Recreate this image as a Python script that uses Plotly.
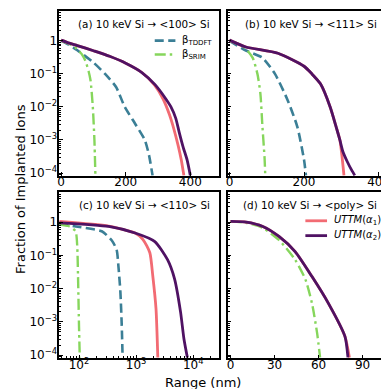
import numpy as np
import plotly.graph_objects as go

# ---- data ----
# (a) <100>
a_x_uttm2 = [0, 25, 50, 100, 150, 200, 250, 290, 320, 340, 355, 365, 378, 390, 400]
a_y_uttm2 = [1.05, 0.85, 0.72, 0.5, 0.34, 0.21, 0.11, 0.048, 0.02, 0.01, 4.5e-3, 1.8e-3, 6e-4, 2.5e-4, 8.5e-5]
a_x_uttm1 = [0, 25, 50, 100, 150, 200, 250, 290, 315, 335, 350, 362, 372, 380]
a_y_uttm1 = [1.05, 0.85, 0.72, 0.5, 0.34, 0.21, 0.11, 0.045, 0.018, 6e-3, 2e-3, 7e-4, 2.5e-4, 8.5e-5]
a_x_tddft = [0, 20, 50, 100, 136, 170, 197, 230, 259, 272, 283]
a_y_tddft = [1.0, 0.8, 0.52, 0.22, 0.1, 0.04, 0.01, 3e-3, 1e-3, 3.5e-4, 8.5e-5]
a_x_srim = [0, 20, 45, 65, 75, 85, 91, 98, 103, 106]
a_y_srim = [1.0, 0.85, 0.62, 0.38, 0.25, 0.12, 0.063, 0.01, 1e-3, 8.5e-5]

# (b) <111>
b_x_uttm2 = [0, 44, 130, 200, 221, 244, 270, 286, 296, 304, 316, 328, 336]
b_y_uttm2 = [1.05, 0.65, 0.42, 0.17, 0.1, 0.05, 0.01, 2.5e-3, 1e-3, 4.5e-4, 2.2e-4, 1.2e-4, 8.5e-5]
b_x_uttm1 = [0, 44, 130, 200, 221, 244, 270, 286, 296, 302, 307]
b_y_uttm1 = [1.05, 0.65, 0.42, 0.17, 0.1, 0.05, 0.01, 2.5e-3, 1e-3, 3e-4, 8.5e-5]
b_x_tddft = [0, 44, 88, 122, 156, 182, 200, 205]
b_y_tddft = [1.0, 0.51, 0.31, 0.1, 0.016, 2.5e-3, 2.5e-4, 8.5e-5]
b_x_srim = [0, 36, 62, 75, 83, 88, 94, 96]
b_y_srim = [1.0, 0.7, 0.31, 0.1, 0.025, 3e-3, 3e-4, 8.5e-5]

# (c) <110>
c_x_uttm2 = [45, 330, 960, 2130, 3550, 4700, 6000, 6900, 7900]
c_y_uttm2 = [0.95, 0.74, 0.47, 0.26, 0.074, 0.02, 2e-3, 3e-4, 8.5e-5]
c_x_uttm1 = [45, 330, 960, 1320, 1740, 1960, 2230, 2400]
c_y_uttm1 = [1.05, 0.76, 0.47, 0.3, 0.12, 0.024, 2.5e-3, 8.5e-5]
c_x_tddft = [45, 88, 250, 370, 455, 490, 530, 560, 580]
c_y_tddft = [0.9, 0.74, 0.53, 0.29, 0.15, 0.047, 8e-3, 8e-4, 8.5e-5]
c_x_srim = [45, 67, 87, 93, 96, 100, 103]
c_y_srim = [0.85, 0.75, 0.53, 0.19, 0.024, 7e-4, 8.5e-5]

# (d) <poly>
d_x_uttm2 = [0, 10.7, 22, 33, 44, 55.5, 66.7, 78, 80]
d_y_uttm2 = [1.05, 1.0, 0.74, 0.37, 0.13, 0.023, 3.6e-3, 3.6e-4, 8.5e-5]
d_x_uttm1 = [0, 10.7, 22, 33, 44, 55.5, 66.7, 78, 81]
d_y_uttm1 = [1.05, 1.0, 0.74, 0.37, 0.13, 0.023, 3.6e-3, 3.6e-4, 8.5e-5]
d_x_srim = [0, 10.7, 22, 33, 44, 51, 55.5, 59, 61]
d_y_srim = [1.05, 0.95, 0.67, 0.29, 0.074, 0.019, 3.6e-3, 4.6e-4, 8.5e-5]

y_tickvals = [1e-4, 1e-3, 1e-2, 1e-1, 1]
y_ticktext = ["10<sup>−4</sup>", "10<sup>−3</sup>", "10<sup>−2</sup>", "10<sup>−1</sup>", "1"]
c_tickvals = [1e2, 1e3, 1e4]
c_ticktext = ["10<sup>2</sup>", "10<sup>3</sup>", "10<sup>4</sup>"]

titles = ["(a) 10 keV Si → <100> Si", "(b) 10 keV Si → <111> Si",
          "(c) 10 keV Si → <110> Si", "(d) 10 keV Si → <poly> Si"]
legend_a = ["β<sub>TDDFT</sub>", "β<sub>SRIM</sub>"]
legend_d = ["<i>UTTM</i>(<i>α</i><sub>1</sub>)", "<i>UTTM</i>(<i>α</i><sub>2</sub>)"]

# ---- style ----
W = H = 389
C_TDDFT = "#3b7f96"
C_SRIM = "#86d65c"
C_U1 = "#f26b73"
C_U2 = "#4f1263"
FONT = "DejaVu Sans"
DASH = "9px,4.5px"
DASHDOT = "11px,4px,2.5px,4px"

# panel boxes in pixels: (left, right, top, bottom)
boxes = [(50, 212, 3, 170), (221, 382, 3, 170), (50, 212, 186, 354), (221, 382, 186, 354)]

fig = go.Figure()


def add(x, y, color, dash, width, idx):
    fig.add_trace(go.Scatter(
        x=x, y=y, mode="lines", showlegend=False, hoverinfo="skip",
        line=dict(color=color, dash=dash, width=width, shape="spline", smoothing=0.6),
        xaxis="x" if idx == 1 else f"x{idx}", yaxis="y" if idx == 1 else f"y{idx}",
    ))


panels = [
    (a_x_tddft, a_y_tddft, a_x_srim, a_y_srim, a_x_uttm1, a_y_uttm1, a_x_uttm2, a_y_uttm2),
    (b_x_tddft, b_y_tddft, b_x_srim, b_y_srim, b_x_uttm1, b_y_uttm1, b_x_uttm2, b_y_uttm2),
    (c_x_tddft, c_y_tddft, c_x_srim, c_y_srim, c_x_uttm1, c_y_uttm1, c_x_uttm2, c_y_uttm2),
]
for i, (xt, yt, xs, ys, x1, y1, x2, y2) in enumerate(panels, start=1):
    add(xt, yt, C_TDDFT, DASH, 2.6, i)
    add(xs, ys, C_SRIM, DASHDOT, 2.4, i)
    add(x1, y1, C_U1, "solid", 2.8, i)
    add(x2, y2, C_U2, "solid", 2.8, i)

add(d_x_srim, d_y_srim, C_SRIM, DASHDOT, 2.4, 4)
add(d_x_uttm1, d_y_uttm1, C_U1, "solid", 2.8, 4)
add(d_x_uttm2, d_y_uttm2, C_U2, "solid", 2.8, 4)

minor_y = [m * 10.0 ** e for e in range(-5, 2) for m in range(2, 10)]
x_ranges = [[-6, 488], [-5, 420], [np.log10(45), np.log10(28000)], [-2, 106]]

axis_common = dict(showline=True, linecolor="black", linewidth=1.6, mirror=True, ticks="inside",
                   ticklen=4, tickwidth=1.2, tickcolor="black", showgrid=False, zeroline=False,
                   ticklabeloverflow="allow",
                   tickfont=dict(family=FONT, size=12, color="black"))

layout = {}
for i, (l, r, t, b) in enumerate(boxes, start=1):
    sx = "" if i == 1 else str(i)
    xa = dict(axis_common, domain=[l / W, r / W], range=x_ranges[i - 1], anchor=f"y{sx}",
              ticklabelstandoff=-6)
    if i == 3:
        xa.update(type="log", tickvals=c_tickvals, ticktext=c_ticktext,
                  minor=dict(tickvals=[m * 10.0 ** e for e in range(1, 5) for m in range(2, 10)],
                             ticks="inside", ticklen=2.2, tickcolor="black"))
    elif i in (1, 2):
        xa.update(tickvals=[0, 200, 400])
    else:
        xa.update(tickvals=[0, 30, 60, 90])
    ya = dict(axis_common, domain=[1 - b / H, 1 - t / H], type="log", range=[np.log10(8e-5), np.log10(8)],
              anchor=f"x{sx}", tickvals=y_tickvals, ticktext=y_ticktext, showticklabels=i in (1, 3),
              ticklabelstandoff=-2,
              minor=dict(tickvals=minor_y, ticks="inside", ticklen=2.2, tickcolor="black"))
    layout[f"xaxis{sx}"] = xa
    layout[f"yaxis{sx}"] = ya

annotations = []
shapes = []
for i, (l, r, t, b) in enumerate(boxes):
    annotations.append(dict(text=titles[i], x=(r - 7) / W, y=1 - (t + 13) / H, xref="paper", yref="paper",
                            xanchor="right", yanchor="middle", showarrow=False,
                            font=dict(family=FONT, size=10.4, color="black")))

# legends drawn by hand: (label, colour, dash, width, x0, x1, y) in pixels
legend_rows = [
    (legend_a[0], C_TDDFT, DASH, 2.6, 147, 168, 33),
    (legend_a[1], C_SRIM, DASHDOT, 2.4, 147, 168, 47),
    (legend_d[0], C_U1, "solid", 2.8, 300, 322, 215),
    (legend_d[1], C_U2, "solid", 2.8, 300, 322, 230),
]
for label, color, dash, w, x0, x1, y in legend_rows:
    shapes.append(dict(type="line", xref="paper", yref="paper", x0=x0 / W, x1=x1 / W,
                       y0=1 - y / H, y1=1 - y / H, line=dict(color=color, dash=dash, width=w)))
    annotations.append(dict(text=label, x=(x1 + 5) / W, y=1 - y / H, xref="paper", yref="paper",
                            xanchor="left", yanchor="middle", showarrow=False,
                            font=dict(family=FONT, size=10, color="black")))

annotations.append(dict(text="Fraction of Implanted Ions", x=10 / W, y=1 - 183 / H, xref="paper", yref="paper",
                        textangle=-90, showarrow=False, xanchor="center", yanchor="middle",
                        font=dict(family=FONT, size=13, color="black")))
annotations.append(dict(text="Range (nm)", x=196 / W, y=1 - 378 / H, xref="paper", yref="paper",
                        showarrow=False, xanchor="center", yanchor="middle",
                        font=dict(family=FONT, size=13, color="black")))

fig.update_layout(
    width=W, height=H, margin=dict(l=0, r=0, t=0, b=0),
    paper_bgcolor="white", plot_bgcolor="white", showlegend=False,
    annotations=annotations, shapes=shapes,
    **layout,
)

fig.write_html("out.html")
